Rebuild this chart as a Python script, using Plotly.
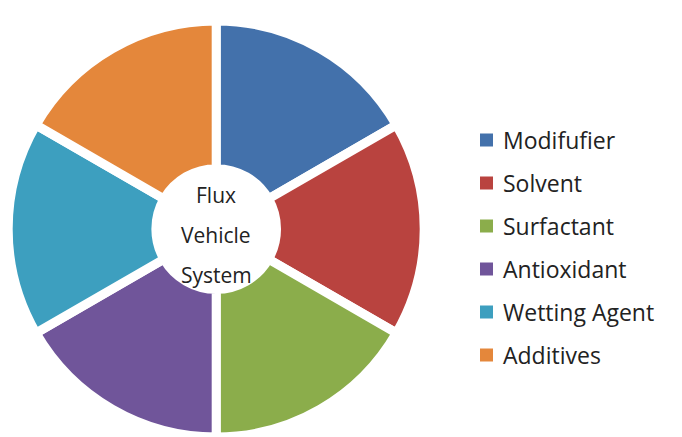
import plotly.graph_objects as go

# Components of the flux vehicle system (equal shares)
components = ["Modifufier", "Solvent", "Surfactant", "Antioxidant", "Wetting Agent", "Additives"]
shares = [1, 1, 1, 1, 1, 1]
colors = ["#4371AB", "#B9433F", "#8BAD4B", "#70559A", "#3D9FBF", "#E4873B"]
center_lines = ["Flux", "Vehicle", "System"]

W, H = 682, 437
FONT = "Open Sans"
TEXT_COLOR = "#222222"

# Pie placement (paper fractions)
dom_x = [0.012, 0.622]
r_px = (dom_x[1] - dom_x[0]) * W / 2
dom_y = [0.0, 2 * r_px / H]
cx = (dom_x[0] + dom_x[1]) / 2
cy = (dom_y[0] + dom_y[1]) / 2

fig = go.Figure(
    go.Pie(
        labels=components,
        values=shares,
        sort=False,
        direction="clockwise",
        rotation=0,
        hole=0.29,
        marker=dict(colors=colors, line=dict(color="white", width=9)),
        textinfo="none",
        hoverinfo="label",
        showlegend=False,
        domain=dict(x=dom_x, y=dom_y),
    )
)

# Centre caption, one annotation per line
for i, line in enumerate(center_lines):
    fig.add_annotation(
        x=cx, y=cy, xref="paper", yref="paper",
        text=line, showarrow=False,
        xanchor="center", yanchor="middle",
        yshift=(1 - i) * 40 - 6,
        font=dict(family=FONT, size=21, color=TEXT_COLOR),
    )

# Legend: coloured square + label for each component
leg_x0, leg_top, leg_step, sq = 480, 140, 43, 13
for i, (name, col) in enumerate(zip(components, colors)):
    yc = leg_top + i * leg_step
    fig.add_shape(
        type="rect", xref="paper", yref="paper",
        x0=leg_x0 / W, x1=(leg_x0 + sq) / W,
        y0=1 - (yc + sq / 2) / H, y1=1 - (yc - sq / 2) / H,
        fillcolor=col, line=dict(width=0),
    )
    fig.add_annotation(
        x=(leg_x0 + sq + 8) / W, y=1 - yc / H, xref="paper", yref="paper",
        text=name, showarrow=False, xanchor="left", yanchor="middle",
        font=dict(family=FONT, size=23, color=TEXT_COLOR),
    )

fig.update_layout(
    width=W, height=H,
    margin=dict(l=0, r=0, t=0, b=0),
    paper_bgcolor="white",
    plot_bgcolor="white",
)

fig.write_html("out.html")
